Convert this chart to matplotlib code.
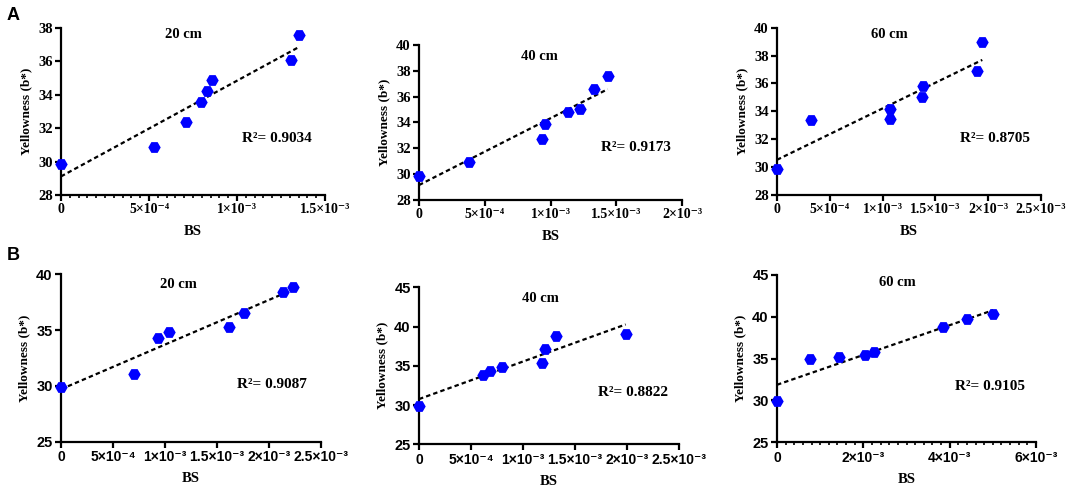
import numpy as np
import matplotlib
matplotlib.use("Agg")
import matplotlib.pyplot as plt
from matplotlib.ticker import MultipleLocator

# ---------------- data ----------------
depths = ["20 cm", "40 cm", "60 cm", "20 cm", "40 cm", "60 cm"]
r2_labels = ["R²= 0.9034", "R²= 0.9173", "R²= 0.8705",
             "R²= 0.9087", "R²= 0.8822", "R²= 0.9105"]

a20_x = [0, 5.30e-4, 7.08e-4, 7.95e-4, 8.28e-4, 8.56e-4, 1.307e-3, 1.352e-3]
a20_y = [29.85, 30.89, 32.36, 33.56, 34.22, 34.87, 36.07, 37.54]
a40_x = [0, 3.80e-4, 9.39e-4, 9.57e-4, 1.134e-3, 1.225e-3, 1.334e-3, 1.435e-3]
a40_y = [29.88, 30.92, 32.75, 33.91, 34.79, 35.06, 36.61, 37.63]
a60_x = [0, 3.22e-4, 1.067e-3, 1.067e-3, 1.383e-3, 1.373e-3, 1.894e-3, 1.944e-3]
a60_y = [29.84, 33.36, 34.17, 33.47, 35.84, 35.03, 36.89, 38.95]
b20_x = [0, 6.99e-4, 9.29e-4, 1.038e-3, 1.615e-3, 1.756e-3, 2.13e-3, 2.23e-3]
b20_y = [29.93, 31.09, 34.32, 34.80, 35.25, 36.50, 38.44, 38.89]
b40_x = [0, 6.19e-4, 6.83e-4, 7.98e-4, 1.179e-3, 1.215e-3, 1.314e-3, 1.987e-3]
b40_y = [29.88, 33.83, 34.38, 34.89, 35.40, 37.10, 38.80, 39.10]
b60_x = [0, 7.73e-4, 1.431e-3, 2.05e-3, 2.25e-3, 3.85e-3, 4.40e-3, 5.01e-3]
b60_y = [29.98, 34.92, 35.24, 35.44, 35.80, 38.75, 39.70, 40.38]

xs = [a20_x, a40_x, a60_x, b20_x, b40_x, b60_x]
ys = [a20_y, a40_y, a60_y, b20_y, b40_y, b60_y]

xticks = [[0, 5e-4, 1e-3, 1.5e-3],
          [0, 5e-4, 1e-3, 1.5e-3, 2e-3],
          [0, 5e-4, 1e-3, 1.5e-3, 2e-3, 2.5e-3],
          [0, 5e-4, 1e-3, 1.5e-3, 2e-3, 2.5e-3],
          [0, 5e-4, 1e-3, 1.5e-3, 2e-3, 2.5e-3],
          [0, 2e-3, 4e-3, 6e-3]]
xticklabels = [["0", "5×10⁻⁴", "1×10⁻³", "1.5×10⁻³"],
               ["0", "5×10⁻⁴", "1×10⁻³", "1.5×10⁻³", "2×10⁻³"],
               ["0", "5×10⁻⁴", "1×10⁻³", "1.5×10⁻³", "2×10⁻³", "2.5×10⁻³"],
               ["0", "5×10⁻⁴", "1×10⁻³", "1.5×10⁻³", "2×10⁻³", "2.5×10⁻³"],
               ["0", "5×10⁻⁴", "1×10⁻³", "1.5×10⁻³", "2×10⁻³", "2.5×10⁻³"],
               ["0", "2×10⁻³", "4×10⁻³", "6×10⁻³"]]
yticks = [[28, 30, 32, 34, 36, 38],
          [28, 30, 32, 34, 36, 38, 40],
          [28, 30, 32, 34, 36, 38, 40],
          [25, 30, 35, 40],
          [25, 30, 35, 40, 45],
          [25, 30, 35, 40, 45]]
minor_steps = [5e-5, None, None, None, None, 2e-4]

# ---------------- layout (pixels) ----------------
W, H = 1084, 503
boxes = [(61, 325, 27.7, 195), (419, 682, 45, 200), (777, 1041, 27.7, 195),
         (61, 321, 274.3, 441.7), (419, 679, 287.3, 444.3), (777, 1036, 275, 442.3)]
title_pos = [(183, 35), (539, 57), (889, 35), (178, 285), (540, 299), (897, 282)]
r2_pos = [(277, 138), (636, 147), (995, 138), (272, 385), (633, 393), (990, 387)]

SERIF = ["Liberation Serif", "DejaVu Serif"]
SANS = ["Liberation Sans", "DejaVu Sans"]

fig = plt.figure(figsize=(W / 100, H / 100), dpi=100)

for i in range(6):
    l, r, t, b = boxes[i]
    ax = fig.add_axes([l / W, 1 - b / H, (r - l) / W, (b - t) / H])
    x = np.array(xs[i]); y = np.array(ys[i])
    ax.scatter(x, y, marker="H", s=80, color="#0000ff", zorder=3, clip_on=False,
               linewidths=0)
    k, c = np.polyfit(x, y, 1)
    xl = np.array([0, x.max()])
    ax.plot(xl, k * xl + c, color="black", lw=1.6, linestyle=(0, (2.0, 1.4)), zorder=2)

    ax.set_xlim(xticks[i][0], xticks[i][-1])
    ax.set_ylim(yticks[i][0], yticks[i][-1])
    ax.set_xticks(xticks[i])
    tick_font = SERIF if i < 3 else SANS
    ax.set_xticklabels(xticklabels[i], family=tick_font, fontweight="bold", fontsize=10)
    ax.set_yticks(yticks[i])
    ax.set_yticklabels([str(v) for v in yticks[i]], family=tick_font,
                       fontweight="bold", fontsize=10.5)
    if minor_steps[i]:
        ax.xaxis.set_minor_locator(MultipleLocator(minor_steps[i]))
    for s in ["top", "right"]:
        ax.spines[s].set_visible(False)
    for s in ["left", "bottom"]:
        ax.spines[s].set_linewidth(1.6)
    ax.tick_params(which="major", length=4, width=1.6, pad=2)
    ax.tick_params(which="minor", length=2.5, width=1.2)
    ax.set_xlabel("BS", family=SERIF, fontweight="bold", fontsize=10.5, labelpad=6)
    ax.set_ylabel("Yellowness (b*)", family=SERIF, fontweight="bold", fontsize=9.5,
                  labelpad=4)
    tx, ty = title_pos[i]
    fig.text(tx / W, 1 - ty / H, depths[i], family=SERIF, fontweight="bold",
             fontsize=10.5, ha="center", va="center")
    rx, ry = r2_pos[i]
    fig.text(rx / W, 1 - ry / H, r2_labels[i], family=SERIF, fontweight="bold",
             fontsize=11, ha="center", va="center")

fig.text(13 / W, 1 - 15 / H, "A", family=SANS, fontweight="bold", fontsize=13,
         ha="center", va="center")
fig.text(13 / W, 1 - 256 / H, "B", family=SANS, fontweight="bold", fontsize=13,
         ha="center", va="center")

fig.savefig("out.png", dpi=100, facecolor="white")
